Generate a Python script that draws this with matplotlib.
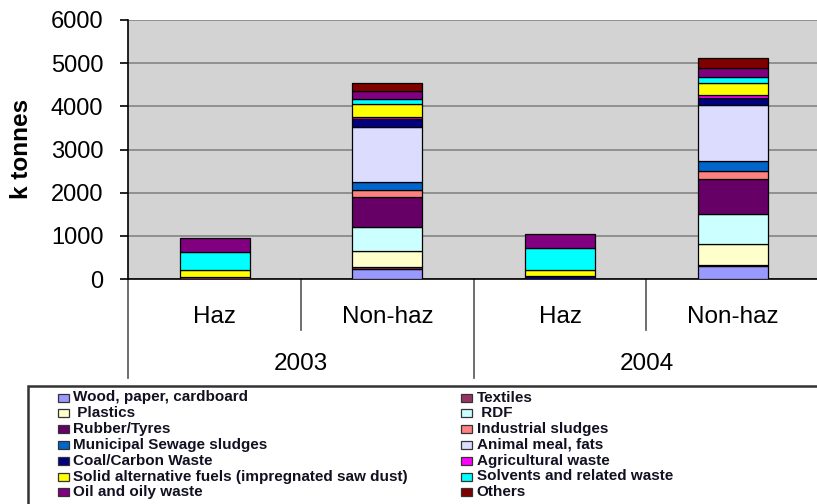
import matplotlib
matplotlib.use("Agg")
import matplotlib.pyplot as plt
from matplotlib.patches import Rectangle
from matplotlib.lines import Line2D
import numpy as np

plt.rcParams['font.family'] = ['Liberation Sans', 'DejaVu Sans']

# ---------------- data ----------------
categories = ["Haz", "Non-haz", "Haz", "Non-haz"]
years = ["2003", "2004"]
series_names = [
    "Wood, paper, cardboard", "Textiles", " Plastics", " RDF", "Rubber/Tyres",
    "Industrial sludges", "Municipal Sewage sludges", "Animal meal, fats",
    "Coal/Carbon Waste", "Agricultural waste",
    "Solid alternative fuels (impregnated saw dust)",
    "Solvents and related waste", "Oil and oily waste", "Others",
]
wood       = [0, 240, 0, 290]
textiles   = [50, 40, 0, 45]
plastics   = [0, 360, 0, 485]
rdf        = [0, 570, 0, 695]
rubber     = [0, 700, 0, 805]
industrial = [0, 155, 0, 185]
municipal  = [0, 190, 0, 240]
animal     = [0, 1275, 0, 1290]
coal       = [0, 170, 70, 160]
agri       = [0, 60, 0, 75]
solid      = [170, 290, 140, 280]
solvents   = [400, 120, 500, 125]
oil        = [325, 190, 340, 215]
others     = [0, 185, 0, 230]
series_values = [wood, textiles, plastics, rdf, rubber, industrial, municipal,
                 animal, coal, agri, solid, solvents, oil, others]
colors = ["#9999FF", "#993366", "#FFFFCC", "#CCFFFF", "#660066", "#FF8080",
          "#0066CC", "#DCDCFF", "#000080", "#FF00FF", "#FFFF00", "#00FFFF",
          "#800080", "#800000"]
yticks = [0, 1000, 2000, 3000, 4000, 5000, 6000]

W, H = 817, 504
fig = plt.figure(figsize=(W / 100, H / 100), dpi=100)

def fx(x):
    return x / W

def fy(y):
    return 1 - y / H

# plot area
ax_left, ax_top, ax_bottom = 128.3, 20, 279
cat_w = 172.7
ax = fig.add_axes([fx(ax_left), fy(ax_bottom), 4 * cat_w / W, (ax_bottom - ax_top) / H])
ax.set_facecolor("#d3d3d3")
ax.set_xlim(-0.5, 3.5)
ax.set_ylim(0, 6000)
ax.set_yticks(yticks)
ax.set_yticklabels([str(v) for v in yticks], fontsize=17)
ax.yaxis.grid(True, color="#8a8a8a", linewidth=1.3)
ax.set_axisbelow(True)
ax.tick_params(axis='y', direction='out', length=6, width=1.2, pad=12, colors='black')
ax.set_xticks([])
for s in ["top", "right"]:
    ax.spines[s].set_visible(False)
ax.spines["left"].set_linewidth(1.2)
ax.spines["bottom"].set_linewidth(1.2)

x = np.arange(len(categories))
bottom = np.zeros(len(categories))
bar_w = 70 / cat_w
for vals, col in zip(series_values, colors):
    v = np.array(vals, dtype=float)
    m = v > 0
    ax.bar(x[m], v[m], bottom=bottom[m], width=bar_w, color=col,
           edgecolor="black", linewidth=0.9, zorder=3)
    bottom += v

# category labels and separators
tr = ax.get_xaxis_transform()
axh = ax_bottom - ax_top
def ay(ypx):
    return -(ypx - ax_bottom) / axh

for i, c in enumerate(categories):
    ax.text(i, ay(317), c, transform=tr, ha='center', va='center', fontsize=17.5, clip_on=False)
for j, yr in enumerate(years):
    ax.text(2 * j + 0.5, ay(364), yr, transform=tr, ha='center', va='center', fontsize=17.5, clip_on=False)
for xs, yend in [(-0.5, 378), (0.5, 330), (1.5, 378), (2.5, 330), (3.5, 378)]:
    ax.add_line(Line2D([xs, xs], [0, ay(yend)], transform=tr, color="#555555",
                       linewidth=1.2, clip_on=False))

# y label
fig.text(fx(22), fy(149), "k tonnes", rotation=90, ha='center', va='center',
         fontsize=17.5, fontweight='bold')

# legend box
fig.add_artist(Rectangle((fx(28), fy(520)), fx(800), fy(386) - fy(520),
                         transform=fig.transFigure, facecolor='white',
                         edgecolor="#333333", linewidth=1.8))
row0, dy = 397.5, 15.8
for k, (name, col) in enumerate(zip(series_names, colors)):
    colm, row = k % 2, k // 2
    mx = 58.3 if colm == 0 else 460.7
    tx = 72.7 if colm == 0 else 476.7
    yc = row0 + row * dy
    fig.add_artist(Rectangle((fx(mx), fy(yc + 4)), fx(11), fy(yc - 4) - fy(yc + 4),
                             transform=fig.transFigure, facecolor=col,
                             edgecolor="#333333", linewidth=0.9))
    fig.text(fx(tx), fy(yc), name, ha='left', va='center', fontsize=11,
             fontweight='bold', color="#111122")

fig.savefig("out.png", dpi=100)
